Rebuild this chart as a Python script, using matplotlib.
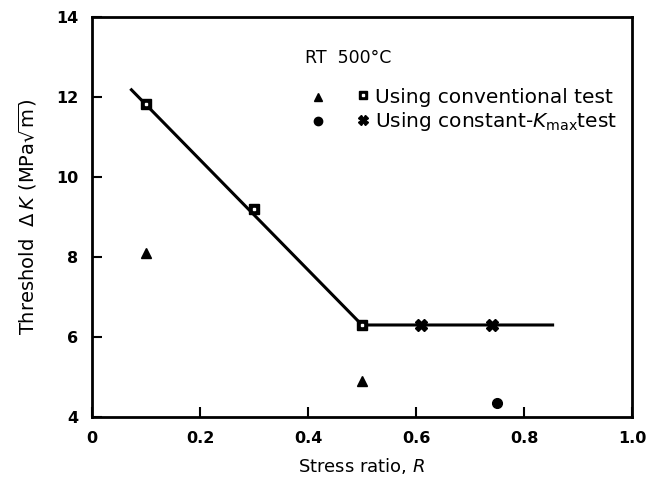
import matplotlib
matplotlib.use("Agg")
import matplotlib.pyplot as plt

# data
r_conv_rt = [0.1, 0.5]
k_conv_rt = [8.1, 4.9]
r_kmax_rt = [0.75]
k_kmax_rt = [4.35]
r_conv_500 = [0.1, 0.3, 0.5]
k_conv_500 = [11.83, 9.2, 6.3]
r_kmax_500 = [0.61, 0.74]
k_kmax_500 = [6.3, 6.3]
r_fit = [0.073, 0.5, 0.853]
k_fit = [12.18, 6.3, 6.3]

xticks = [0, 0.2, 0.4, 0.6, 0.8, 1.0]
xticklabels = ["0", "0.2", "0.4", "0.6", "0.8", "1.0"]
yticks = [4, 6, 8, 10, 12, 14]

plt.rcParams['font.family'] = ['DejaVu Sans']
plt.rcParams['mathtext.fontset'] = 'dejavusans'

fig = plt.figure(figsize=(6.47, 4.82), dpi=100)
ax = fig.add_axes([0.1422, 0.1349, 0.8346, 0.8298])

ax.plot(r_fit, k_fit, color='black', lw=2.2, zorder=2)
ax.plot(r_conv_rt, k_conv_rt, ls='none', marker='^', color='black', ms=7, zorder=3)
ax.plot(r_kmax_rt, k_kmax_rt, ls='none', marker='o', color='black', ms=7, zorder=3)
ax.plot(r_conv_500, k_conv_500, ls='none', marker='s', mfc='black', mec='black', ms=7.5, zorder=3)
ax.plot(r_conv_500, k_conv_500, ls='none', marker='s', mfc='white', mec='white', ms=2, zorder=4)
ax.plot(r_kmax_500, k_kmax_500, ls='none', marker='X', color='black', ms=9, zorder=3)

# legend drawn by hand like the figure
ax.text(0.394, 0.8975, "RT  500°C", transform=ax.transAxes, fontsize=12.5, va='center', ha='left')
ax.plot([0.4185], [0.80], transform=ax.transAxes, marker='^', color='black', ms=6, clip_on=False)
ax.plot([0.4185], [0.74], transform=ax.transAxes, marker='o', color='black', ms=6, clip_on=False)
ax.plot([0.502], [0.805], transform=ax.transAxes, marker='s', color='black', ms=6, clip_on=False)
ax.plot([0.502], [0.805], transform=ax.transAxes, marker='s', mfc='white', mec='white', ms=1.5, clip_on=False)
ax.plot([0.502], [0.742], transform=ax.transAxes, marker='X', color='black', ms=7, clip_on=False)
ax.text(0.524, 0.80, "Using conventional test", transform=ax.transAxes, fontsize=14.5, va='center', ha='left')
ax.text(0.524, 0.74, r"Using constant-$\it{K}_{\rm max}$test", transform=ax.transAxes,
        fontsize=14.5, va='center', ha='left')

ax.set_xlim(0, 1.0)
ax.set_ylim(4, 14)
ax.set_xticks(xticks)
ax.set_xticklabels(xticklabels)
ax.set_yticks(yticks)
ax.tick_params(direction='in', length=7, width=1.5, labelsize=11.5, pad=10)
for lab in ax.get_xticklabels() + ax.get_yticklabels():
    lab.set_fontweight('bold')
for s in ax.spines.values():
    s.set_linewidth(2)

ax.set_xlabel(r"Stress ratio, $\it{R}$", fontsize=13, labelpad=7)
ax.set_ylabel(r"Threshold  $\Delta\,\it{K}$ (MPa$\sqrt{\rm m}$)", fontsize=14, labelpad=12)

fig.savefig("out.png", dpi=100)
